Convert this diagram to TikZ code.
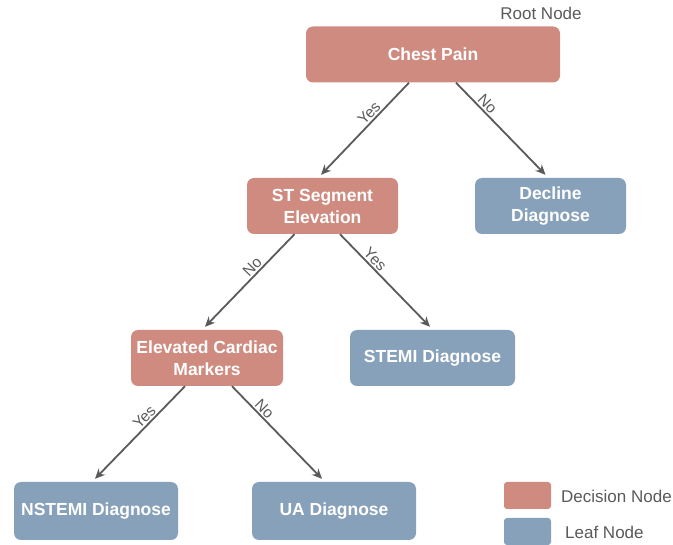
\documentclass[tikz,border=0pt]{standalone}
\usepackage{fontspec}
\setmainfont{Liberation Sans}
\usepackage{xcolor}
\usepackage{tikz}
\usetikzlibrary{arrows.meta}
\definecolor{decisioncol}{RGB}{207,139,128}
\definecolor{leafcol}{RGB}{135,161,186}
\definecolor{linecol}{RGB}{90,90,90}

\begin{document}
\begin{tikzpicture}[x=1pt,y=-1pt,
    box/.style={rounded corners=7pt,inner sep=0pt,text=white,align=center,minimum height=56pt,
        font=\fontsize{17.5}{22}\selectfont\bfseries},
    decision/.style={box,fill=decisioncol},
    leaf/.style={box,fill=leafcol},
    arr/.style={draw=linecol,line width=1.8pt,-{Stealth[length=10pt,width=9pt]}},
    lbl/.style={sloped,above,text=linecol,inner sep=1.5pt,font=\fontsize{15.5}{15.5}\selectfont},
    plain/.style={text=linecol,inner sep=0pt,font=\fontsize{17}{17}\selectfont}]
    \useasboundingbox (0,0) rectangle (673,545);
    %
    \node[plain] (root) at (541,13) {Root Node};
    \node[decision,minimum width=254pt] (chest) at (433,54.5) {Chest Pain};

    \node[decision,minimum width=151pt] (st) at (322.5,206) {ST Segment\\Elevation};
    \node[leaf,minimum width=151pt] (decline) at (550.5,206) {Decline\\Diagnose};

    \node[decision,minimum width=152pt] (markers) at (207,358) {Elevated Cardiac\\Markers};
    \node[leaf,minimum width=165pt] (stemi) at (432.5,358) {STEMI Diagnose};

    \node[leaf,minimum width=164pt,minimum height=58pt] (nstemi) at (96,511) {NSTEMI Diagnose};
    \node[leaf,minimum width=164pt,minimum height=58pt] (ua) at (334,511) {UA Diagnose};
    %
    \node[fill=decisioncol,rounded corners=3pt,minimum width=47pt,minimum height=27pt] (legdec) at (527.5,495.5) {};
    \node[fill=leafcol,rounded corners=3pt,minimum width=47pt,minimum height=27pt] (legleaf) at (527.5,531.5) {};
    \node[plain,anchor=west] (legdectxt) at (561,496) {Decision Node};
    \node[plain,anchor=west] (legleaftxt) at (565,532) {Leaf Node};
    %
    \draw[arr] ([xshift=-24pt]chest.south) -- node[lbl,pos=0.39] {Yes} ([xshift=-1.5pt,yshift=3pt]st.north);
    \draw[arr] ([xshift=23pt]chest.south) -- node[lbl,pos=0.29] {No} ([xshift=-5pt,yshift=3pt]decline.north);

    \draw[arr] ([xshift=-28pt]st.south) -- node[lbl,pos=0.41] {No} ([xshift=-2pt,yshift=3pt]markers.north);
    \draw[arr] ([xshift=17.5pt]st.south) -- node[lbl,pos=0.33] {Yes} ([xshift=-2.5pt,yshift=3pt]stemi.north);

    \draw[arr] ([xshift=-22pt]markers.south) -- node[lbl,pos=0.39] {Yes} ([xshift=-1pt,yshift=3pt]nstemi.north);
    \draw[arr] ([xshift=25pt]markers.south) -- node[lbl,pos=0.3] {No} ([xshift=-12pt,yshift=3pt]ua.north);
    %
\end{tikzpicture}
\end{document}
